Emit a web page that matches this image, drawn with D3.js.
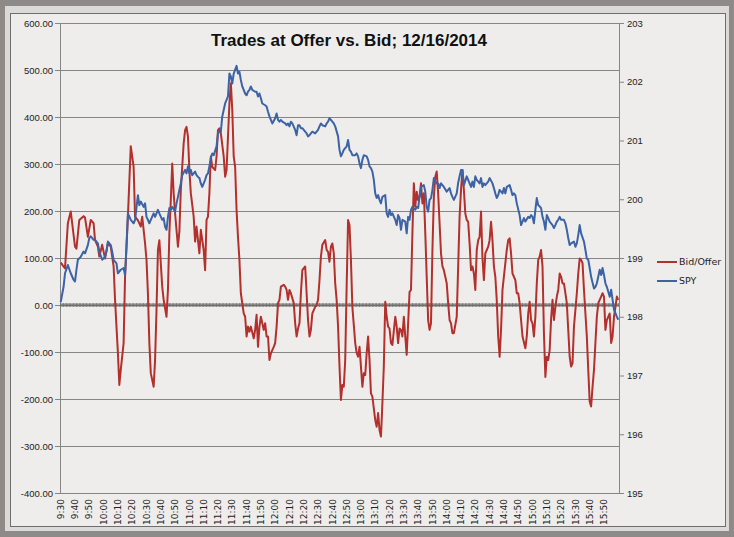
<!DOCTYPE html>
<html>
<head>
<meta charset="utf-8">
<script src="https://cdn.jsdelivr.net/npm/d3@7"></script>
<style>
  body { margin: 0; background: #8e8a87; }
  svg { display: block; font-family: "DejaVu Sans", Verdana, sans-serif; }
  .axis text { fill: #222; font-size: 9.5px; }
  .xlab { fill: #222; font-size: 9px; }
</style>
</head>
<body>
<div id="chart"></div>
<script>
// minute offsets from 9:30 -> category labels 9:30 ... 16:00
const times = [];
for (let m = 0; m <= 390; m++) {
    const t = 570 + m;
    times.push(Math.floor(t / 60) + ":" + String(t % 60).padStart(2, "0"));
}

const tickLabels = ["9:30", "9:40", "9:50", "10:00", "10:10", "10:20", "10:30", "10:40", "10:50",
    "11:00", "11:10", "11:20", "11:30", "11:40", "11:50", "12:00", "12:10", "12:20", "12:30",
    "12:40", "12:50", "13:00", "13:10", "13:20", "13:30", "13:40", "13:50", "14:00", "14:10",
    "14:20", "14:30", "14:40", "14:50", "15:00", "15:10", "15:20", "15:30", "15:40", "15:50"];

const leftTicks = [-400, -300, -200, -100, 0, 100, 200, 300, 400, 500, 600];
const rightTicks = [195, 196, 197, 198, 199, 200, 201, 202, 203];

// [minute offset, value]
const bidOffer = [[0,90],[3,78],[5,174],[7,199],[10,124],[11,120],[13,181],[16,189],[17,186],[19,145],[21,181],[23,174],[24,138],[26,124],[27,103],[29,128],[31,99],[33,132],[35,124],[37,82],[38,11],[40,-102],[41,-170],[42,-138],[44,-81],[45,60],[47,188],[49,338],[51,294],[52,188],[54,180],[56,167],[57,188],[59,131],[60,96],[61,25],[62,-81],[63,-145],[65,-174],[66,-117],[67,-11],[68,117],[69,138],[71,39],[72,11],[74,-25],[75,32],[76,153],[77,223],[78,301],[79,238],[80,195],[82,124],[83,156],[84,245],[86,344],[87,372],[88,379],[89,358],[90,287],[91,238],[93,188],[94,135],[95,167],[96,138],[97,110],[98,160],[100,117],[101,74],[102,181],[103,188],[104,238],[105,316],[106,294],[108,287],[109,316],[110,372],[111,376],[112,365],[114,316],[115,273],[116,287],[117,358],[118,429],[119,472],[120,415],[121,316],[122,294],[123,202],[124,145],[125,96],[126,25],[128,-18],[129,-25],[130,-67],[131,-46],[132,-57],[133,-46],[135,-71],[136,-53],[137,-21],[138,-89],[139,-46],[140,-25],[142,-53],[143,-39],[144,-67],[145,-67],[146,-117],[147,-103],[149,-89],[150,-81],[151,-46],[152,4],[153,11],[154,39],[156,43],[157,39],[158,32],[159,11],[160,32],[161,25],[163,4],[164,-39],[165,-67],[166,-50],[167,-39],[168,25],[169,74],[171,82],[172,25],[173,-32],[174,-67],[175,-53],[176,-18],[178,-4],[179,0],[180,11],[181,53],[182,103],[183,128],[185,138],[186,117],[187,113],[188,92],[189,124],[190,131],[191,110],[192,46],[193,11],[194,-46],[195,-131],[196,-202],[197,-170],[198,-174],[199,-117],[200,40],[201,181],[202,170],[203,96],[204,-4],[206,-81],[207,-102],[208,-110],[209,-89],[210,-131],[211,-174],[212,-145],[213,-149],[214,-103],[215,-67],[216,-117],[217,-188],[218,-195],[220,-245],[221,-259],[222,-230],[223,-266],[224,-280],[225,-209],[226,-131],[227,7],[228,-25],[229,-46],[230,-50],[231,-81],[232,-85],[234,-25],[235,-46],[236,-81],[237,-50],[238,-53],[239,-67],[240,-25],[241,-67],[242,-106],[243,-39],[244,28],[245,32],[246,153],[247,259],[248,209],[249,241],[250,223],[251,230],[252,259],[253,216],[254,238],[255,153],[256,60],[257,-32],[258,-53],[259,-39],[260,117],[261,230],[262,273],[263,284],[264,238],[265,174],[266,110],[267,82],[268,74],[270,46],[271,4],[272,-32],[273,-39],[274,-60],[275,-60],[277,-25],[278,82],[279,188],[280,245],[281,287],[282,245],[283,195],[284,181],[285,177],[286,131],[287,74],[288,82],[289,67],[290,32],[291,117],[292,138],[293,145],[294,199],[295,100],[296,53],[297,110],[298,117],[299,124],[300,138],[301,177],[302,138],[303,82],[304,60],[305,10],[306,-67],[307,-110],[308,-53],[309,32],[311,89],[312,117],[313,138],[314,142],[315,110],[316,67],[318,53],[319,25],[320,25],[321,4],[322,-32],[323,-67],[325,-92],[326,-67],[327,-18],[328,7],[329,-32],[330,-39],[331,-67],[332,-25],[333,46],[334,96],[335,103],[336,117],[337,82],[338,-60],[339,-153],[340,-110],[341,-117],[342,-96],[343,-30],[344,11],[345,-32],[346,-4],[347,18],[348,32],[349,67],[350,60],[351,46],[352,46],[354,4],[355,-53],[356,-110],[357,-131],[358,-124],[359,-46],[361,25],[362,67],[363,99],[364,96],[365,89],[366,32],[368,-67],[369,-138],[370,-206],[371,-216],[372,-174],[373,-138],[374,-81],[375,-25],[376,4],[378,18],[379,25],[380,18],[381,-53],[382,-32],[384,-18],[385,-81],[386,-67],[387,-25],[388,-4],[389,18],[390,11]];

const spy = [[0,198.25],[2,198.51],[3,198.74],[5,198.88],[7,198.74],[9,198.63],[10,198.60],[11,198.80],[12,198.97],[14,199.02],[16,199.11],[17,199.08],[19,199.22],[20,199.34],[21,199.37],[23,199.31],[24,199.31],[26,199.25],[27,199.11],[29,198.97],[31,199.02],[32,199.11],[33,199.28],[35,199.22],[36,199.11],[37,198.97],[39,198.91],[40,198.74],[42,198.80],[44,198.83],[45,198.71],[46,199.19],[47,199.76],[49,199.65],[51,199.59],[52,199.65],[54,200.07],[55,199.90],[56,199.96],[58,199.87],[59,199.93],[60,199.70],[61,199.65],[62,199.59],[63,199.65],[65,199.76],[66,199.70],[67,199.76],[68,199.82],[69,199.76],[71,199.65],[72,199.68],[73,199.53],[74,199.48],[75,199.70],[76,199.85],[77,199.82],[78,199.87],[80,199.79],[81,199.93],[82,200.04],[83,200.16],[84,200.27],[85,200.41],[87,200.50],[88,200.44],[89,200.56],[90,200.44],[91,200.50],[92,200.41],[94,200.47],[95,200.41],[96,200.38],[97,200.36],[98,200.27],[99,200.21],[101,200.33],[102,200.41],[103,200.44],[104,200.56],[105,200.70],[106,200.78],[107,200.75],[109,200.90],[110,201.12],[111,201.15],[112,201.15],[113,201.41],[115,201.63],[116,201.69],[117,201.75],[118,202.14],[119,202.09],[120,201.97],[121,202.14],[123,202.27],[124,202.14],[125,202.17],[126,202.03],[127,201.92],[129,201.80],[130,201.77],[131,201.83],[132,201.86],[133,201.92],[134,201.86],[136,201.83],[137,201.83],[138,201.75],[139,201.80],[140,201.72],[141,201.63],[143,201.60],[144,201.58],[145,201.49],[146,201.41],[147,201.35],[148,201.29],[150,201.38],[151,201.46],[152,201.35],[153,201.32],[154,201.35],[155,201.32],[157,201.29],[158,201.26],[159,201.29],[160,201.24],[161,201.32],[162,201.29],[164,201.18],[165,201.09],[166,201.26],[167,201.26],[168,201.21],[169,201.21],[171,201.15],[172,201.12],[173,201.07],[174,201.09],[175,201.12],[176,201.15],[178,201.12],[179,201.15],[180,201.18],[181,201.24],[182,201.29],[183,201.26],[185,201.24],[186,201.29],[187,201.32],[188,201.38],[189,201.35],[190,201.32],[191,201.29],[192,201.24],[194,201.07],[195,200.84],[196,200.73],[197,200.78],[198,200.84],[200,200.90],[201,201.01],[202,200.84],[203,200.81],[204,200.75],[206,200.75],[207,200.78],[208,200.73],[209,200.61],[210,200.53],[211,200.67],[212,200.75],[214,200.73],[215,200.67],[216,200.56],[217,200.53],[218,200.47],[219,200.33],[220,200.10],[221,200.02],[222,200.07],[223,199.99],[224,199.93],[225,200.04],[227,200.07],[228,199.76],[229,199.70],[230,199.82],[231,199.73],[232,199.76],[234,199.65],[235,199.56],[236,199.73],[237,199.68],[238,199.48],[239,199.65],[241,199.62],[242,199.42],[243,199.70],[244,199.65],[245,199.82],[246,199.87],[248,199.82],[249,199.87],[250,199.85],[251,200.04],[252,200.21],[254,200.24],[255,200.13],[256,199.87],[257,199.79],[258,199.99],[259,200.02],[260,200.16],[261,200.36],[263,200.27],[264,200.27],[265,200.19],[266,200.27],[267,200.24],[268,200.21],[270,200.13],[271,200.16],[272,200.19],[273,200.10],[274,200.04],[275,199.99],[277,200.10],[278,200.28],[279,200.39],[280,200.50],[281,200.50],[282,200.24],[284,200.39],[285,200.33],[286,200.27],[287,200.21],[288,200.30],[289,200.21],[290,200.39],[291,200.33],[293,200.27],[294,200.36],[295,200.21],[296,200.27],[297,200.24],[298,200.27],[299,200.30],[300,200.36],[302,200.27],[303,200.19],[304,200.10],[305,200.02],[306,200.07],[307,200.16],[309,200.10],[310,200.19],[311,200.10],[312,200.21],[314,200.24],[315,200.16],[316,200.07],[317,200.10],[318,200.07],[319,199.93],[321,199.73],[322,199.56],[323,199.62],[324,199.68],[325,199.62],[327,199.70],[328,199.68],[329,199.73],[330,199.70],[331,199.59],[332,199.82],[333,200.02],[334,199.90],[335,199.88],[336,199.85],[337,199.70],[338,199.62],[339,199.48],[340,199.73],[341,199.68],[342,199.62],[344,199.56],[345,199.51],[346,199.56],[347,199.62],[348,199.65],[349,199.70],[350,199.65],[352,199.65],[353,199.59],[354,199.48],[355,199.34],[356,199.22],[357,199.25],[359,199.28],[360,199.19],[361,199.25],[362,199.39],[363,199.56],[364,199.42],[366,199.28],[367,199.14],[368,198.99],[369,198.97],[370,198.83],[371,198.68],[373,198.48],[374,198.51],[375,198.57],[376,198.68],[377,198.80],[378,198.71],[379,198.83],[380,198.71],[381,198.57],[382,198.51],[384,198.34],[385,198.46],[386,198.29],[387,198.12],[388,198.06],[389,198.00],[390,197.95]];

const W = 734, H = 537;
const margin = { top: 23, right: 115, bottom: 44, left: 60 };
const width = W - margin.left - margin.right;
const height = H - margin.top - margin.bottom;

const root = d3.select("#chart").append("svg")
    .attr("width", W)
    .attr("height", H);

// frame
root.append("rect").attr("width", W).attr("height", H).attr("fill", "#8e8a87");
root.append("rect").attr("x", 5).attr("y", 6).attr("width", 724).attr("height", 525).attr("fill", "#dcdad8");
root.append("rect").attr("x", 10.5).attr("y", 13.5).attr("width", 715).attr("height", 513)
    .attr("fill", "#eeedec").attr("stroke", "#6e6e6e");

const svg = root.append("g")
    .attr("transform", `translate(${margin.left},${margin.top})`);

const x = d3.scaleBand().domain(times).range([0, width]).padding(0);
const bw = x.bandwidth();
const yL = d3.scaleLinear().domain([-400, 600]).range([height, 0]);
const yR = d3.scaleLinear().domain([195, 203]).range([height, 0]);

// gridlines
svg.append("g")
    .call(d3.axisLeft(yL).tickValues(leftTicks).tickSize(-width).tickFormat(""))
    .call(g => g.select(".domain").remove())
    .selectAll("line").attr("stroke", "#858585");

// left axis
svg.append("g").attr("class", "axis")
    .call(d3.axisLeft(yL).tickValues(leftTicks).tickSize(5).tickPadding(2).tickFormat(d => d.toFixed(2)))
    .call(g => g.select(".domain").attr("stroke", "#858585"))
    .call(g => g.selectAll("line").attr("stroke", "#858585"));

// right axis
svg.append("g").attr("class", "axis")
    .attr("transform", `translate(${width},0)`)
    .call(d3.axisRight(yR).tickValues(rightTicks).tickSize(5).tickPadding(3).tickFormat(d3.format("d")))
    .call(g => g.select(".domain").attr("stroke", "#858585"))
    .call(g => g.selectAll("line").attr("stroke", "#858585"));

// category axis at zero
const y0 = yL(0);
svg.append("line").attr("x1", 0).attr("x2", width).attr("y1", y0).attr("y2", y0).attr("stroke", "#666");
svg.append("g")
    .attr("transform", `translate(0,${y0 - 2})`)
    .call(d3.axisBottom(x).tickValues(times).tickSize(4).tickFormat(""))
    .call(g => g.select(".domain").remove())
    .selectAll("line").attr("stroke", "#6a6a6a").attr("stroke-width", 0.8);

// rotated labels at the bottom
svg.append("g").selectAll("text")
    .data(tickLabels)
    .enter()
    .append("text")
    .attr("class", "xlab")
    .attr("transform", d => `translate(${x(d) + bw / 2},${height + 6}) rotate(-90)`)
    .attr("text-anchor", "end")
    .attr("dy", "0.35em")
    .text(d => d);

const lineL = d3.line()
    .x(d => x(times[d[0]]) + bw / 2)
    .y(d => yL(d[1]));
const lineR = d3.line()
    .x(d => x(times[d[0]]) + bw / 2)
    .y(d => yR(d[1]));

svg.append("path")
    .datum(bidOffer)
    .attr("fill", "none")
    .attr("stroke", "#b3302c")
    .attr("stroke-width", 2)
    .attr("stroke-linejoin", "round")
    .attr("d", lineL);

svg.append("path")
    .datum(spy)
    .attr("fill", "none")
    .attr("stroke", "#3b63a6")
    .attr("stroke-width", 2)
    .attr("stroke-linejoin", "round")
    .attr("d", lineR);

// title
root.append("text")
    .attr("x", 349)
    .attr("y", 46)
    .attr("text-anchor", "middle")
    .attr("font-family", "'Liberation Sans Narrow', 'Liberation Sans', sans-serif")
    .attr("font-weight", "bold")
    .attr("font-size", 17)
    .attr("textLength", 276)
    .attr("lengthAdjust", "spacingAndGlyphs")
    .attr("fill", "#111")
    .text("Trades at Offer vs. Bid; 12/16/2014");

// legend
const legend = [{ name: "Bid/Offer", color: "#b3302c" }, { name: "SPY", color: "#3b63a6" }];
const lg = root.append("g").attr("transform", "translate(657,262)");
legend.forEach((s, i) => {
    lg.append("line").attr("x1", 0).attr("x2", 20).attr("y1", i * 19).attr("y2", i * 19)
        .attr("stroke", s.color).attr("stroke-width", 2);
    lg.append("text").attr("x", 22).attr("y", i * 19).attr("dy", "0.35em")
        .attr("font-size", 9.5).attr("fill", "#222").text(s.name);
});
</script>
</body>
</html>
